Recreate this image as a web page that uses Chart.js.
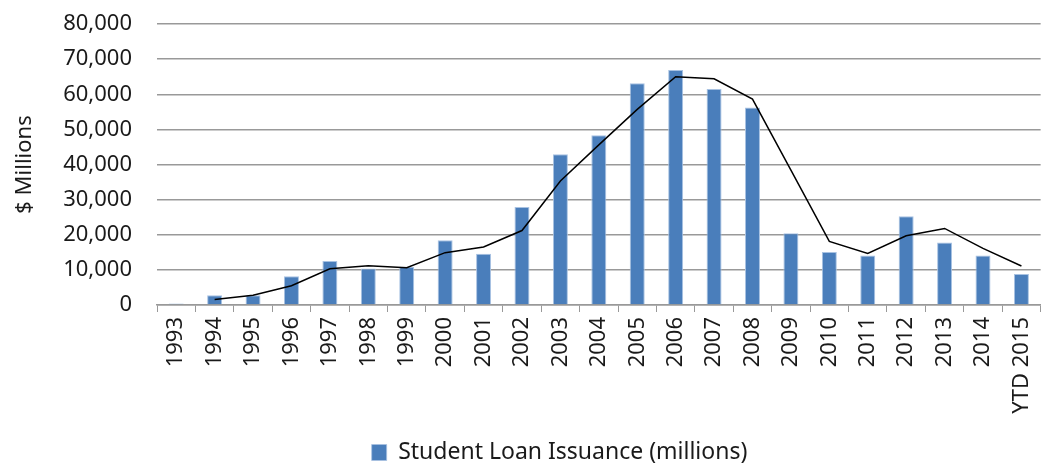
<!DOCTYPE html>
<html>
<head>
<meta charset="utf-8">
<script src="https://cdn.jsdelivr.net/npm/chart.js@4"></script>
<style>
  html, body { margin: 0; padding: 0; background: #fff; }
  #wrap { width: 1053px; height: 466px; }
</style>
</head>
<body>
<div id="wrap"><canvas id="loans"></canvas></div>
<script>
const years = ["1993", "1994", "1995", "1996", "1997", "1998", "1999", "2000", "2001", "2002",
  "2003", "2004", "2005", "2006", "2007", "2008", "2009", "2010", "2011", "2012", "2013", "2014", "YTD 2015"];

// bars, $ millions
const issuance = [400, 2800, 2800, 8200, 12500, 10400, 10900, 18400, 14600, 27900,
  42900, 48300, 63100, 66900, 61500, 56200, 20400, 15100, 14100, 25300, 17800, 14100, 8800];

// black trend line (starts at 1994)
const trend = [null, 1600, 2750, 5500, 10300, 11200, 10600, 14900, 16500, 21200,
  35300, 45600, 55700, 65000, 64400, 58600, 38400, 18100, 14700, 19700, 21800, 16100, 11100];

const yTicks = { min: 0, max: 80000, step: 10000 };

const font = "'Noto Sans', 'DejaVu Sans', sans-serif";

// the legend sits a little right of centre in the original
const nudgeLegend = {
  id: "nudgeLegend",
  afterLayout(chart) {
    chart.legend.left += 31;
    chart.legend.right += 31;
  },
};

new Chart(document.getElementById("loans"), {
  data: {
    labels: years,
    datasets: [
      {
        type: "line",
        label: "trend",
        data: trend,
        borderColor: "#000",
        borderWidth: 1.5,
        pointRadius: 0,
        tension: 0,
        fill: false,
        order: 0,
      },
      {
        type: "bar",
        label: "Student Loan Issuance (millions)",
        data: issuance,
        backgroundColor: "#4a7ebb",
        borderColor: "#a8c2e2",
        borderWidth: { top: 1, left: 1, right: 1, bottom: 0 },
        barPercentage: 0.39,
        categoryPercentage: 1,
        order: 1,
      },
    ],
  },
  plugins: [nudgeLegend],
  options: {
    responsive: true,
    maintainAspectRatio: false,
    animation: false,
    layout: { padding: { top: 24, right: 8, left: 12, bottom: -8 } },
    plugins: {
      tooltip: { enabled: false },
      legend: {
        position: "bottom",
        labels: {
          filter: (item) => item.text !== "trend",
          boxWidth: 15,
          boxHeight: 16,
          color: "#1a1a1a",
          font: { family: font, size: 23 },
          padding: 0,
        },
      },
    },
    scales: {
      x: {
        grid: {
          offset: true,
          drawOnChartArea: false,
          tickLength: 7,
          color: "#999",
        },
        border: { color: "#999", width: 1.5 },
        ticks: {
          color: "#1a1a1a",
          font: { family: font, size: 22 },
          minRotation: 90,
          maxRotation: 90,
          padding: 5,
          autoSkip: false,
        },
        afterFit: (s) => { s.height = 136; },
      },
      y: {
        min: yTicks.min,
        max: yTicks.max,
        grid: {
          color: "#999",
          lineWidth: 1.5,
          drawTicks: true,
          tickLength: 22,
          tickColor: "rgba(0,0,0,0)",
        },
        border: { display: false },
        ticks: {
          stepSize: yTicks.step,
          color: "#1a1a1a",
          font: { family: font, size: 22 },
          padding: 3,
          callback: (v) => v.toLocaleString("en-US"),
        },
        title: {
          display: true,
          text: "$ Millions",
          color: "#1a1a1a",
          font: { family: font, size: 22 },
          padding: { top: 0, bottom: 2 },
        },
        afterFit: (s) => { s.width = 145; },
      },
    },
  },
});
</script>
</body>
</html>
